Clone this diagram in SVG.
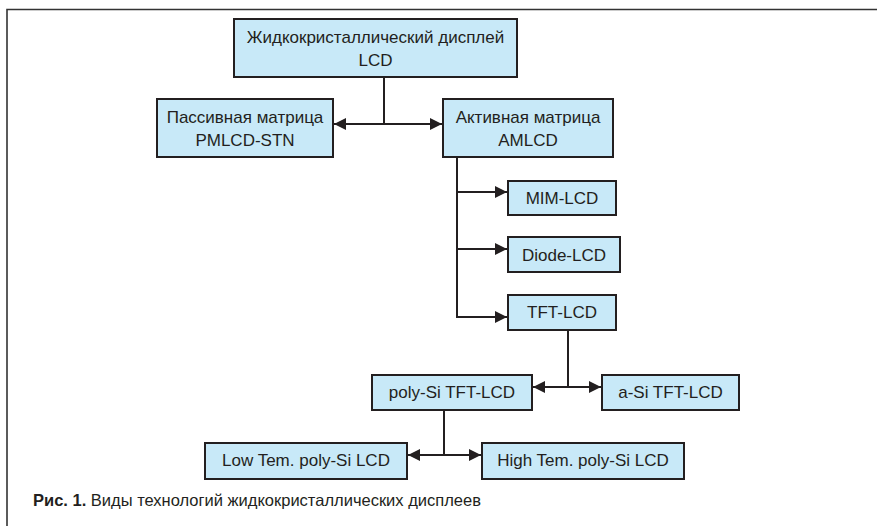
<svg xmlns="http://www.w3.org/2000/svg" width="877" height="526" viewBox="0 0 877 526">
<style>
.box rect{fill:#c8e9f8;stroke:#231f20;stroke-width:2}
.box text{font-family:"Liberation Sans","Noto Sans",sans-serif;font-size:17px;fill:#231f20;text-anchor:middle}
.conn path{fill:none;stroke:#231f20;stroke-width:2}
.cap{font-family:"Liberation Sans","Noto Sans",sans-serif;font-size:16.5px;fill:#231f20}
</style>
<defs>
<marker id="ah" viewBox="0 0 10 10" refX="10" refY="5" markerWidth="6" markerHeight="6" orient="auto-start-reverse" markerUnits="strokeWidth">
<path d="M0,0 L10,5 L0,10 Z" fill="#231f20"/>
</marker>
</defs>
<rect width="877" height="526" fill="#ffffff"/>
<path d="M7,526 V9.5 H877" fill="none" stroke="#333333" stroke-width="1.6"/>
<g class="conn">
<path d="M384,77 V124"/>
<path d="M334,124 H442" marker-start="url(#ah)" marker-end="url(#ah)"/>
<path d="M457,157 V317 H507" marker-end="url(#ah)"/>
<path d="M457,192 H507" marker-end="url(#ah)"/>
<path d="M457,249 H507" marker-end="url(#ah)"/>
<path d="M568,330 V387"/>
<path d="M533,387 H601" marker-start="url(#ah)" marker-end="url(#ah)"/>
<path d="M444,410 V455"/>
<path d="M408,455 H481" marker-start="url(#ah)" marker-end="url(#ah)"/>
</g>
<g id="lcd" class="box"><rect x="234" y="19" width="283" height="58"/><text x="375.5" y="43">Жидкокристаллический дисплей</text><text x="375.5" y="66">LCD</text></g>
<g id="pm" class="box"><rect x="157" y="99" width="176" height="58"/><text x="245" y="123">Пассивная матрица</text><text x="245" y="146">PMLCD-STN</text></g>
<g id="am" class="box"><rect x="443" y="99" width="170" height="58"/><text x="528" y="123">Активная матрица</text><text x="528" y="146">AMLCD</text></g>
<g id="mim" class="box"><rect x="508" y="181" width="108" height="34"/><text x="562" y="204">MIM-LCD</text></g>
<g id="diode" class="box"><rect x="508" y="237" width="112" height="35"/><text x="564" y="261">Diode-LCD</text></g>
<g id="tft" class="box"><rect x="508" y="295" width="108" height="35"/><text x="562" y="318">TFT-LCD</text></g>
<g id="poly" class="box"><rect x="372" y="375" width="160" height="35"/><text x="452" y="398">poly-Si TFT-LCD</text></g>
<g id="asi" class="box"><rect x="602" y="375" width="137" height="35"/><text x="670.5" y="398">a-Si TFT-LCD</text></g>
<g id="low" class="box"><rect x="205" y="443" width="202" height="36"/><text x="306" y="466">Low Tem. poly-Si LCD</text></g>
<g id="high" class="box"><rect x="482" y="443" width="202" height="36"/><text x="583" y="466">High Tem. poly-Si LCD</text></g>
<text class="cap" x="33" y="506"><tspan font-weight="bold">Рис. 1.</tspan> Виды технологий жидкокристаллических дисплеев</text>
</svg>
